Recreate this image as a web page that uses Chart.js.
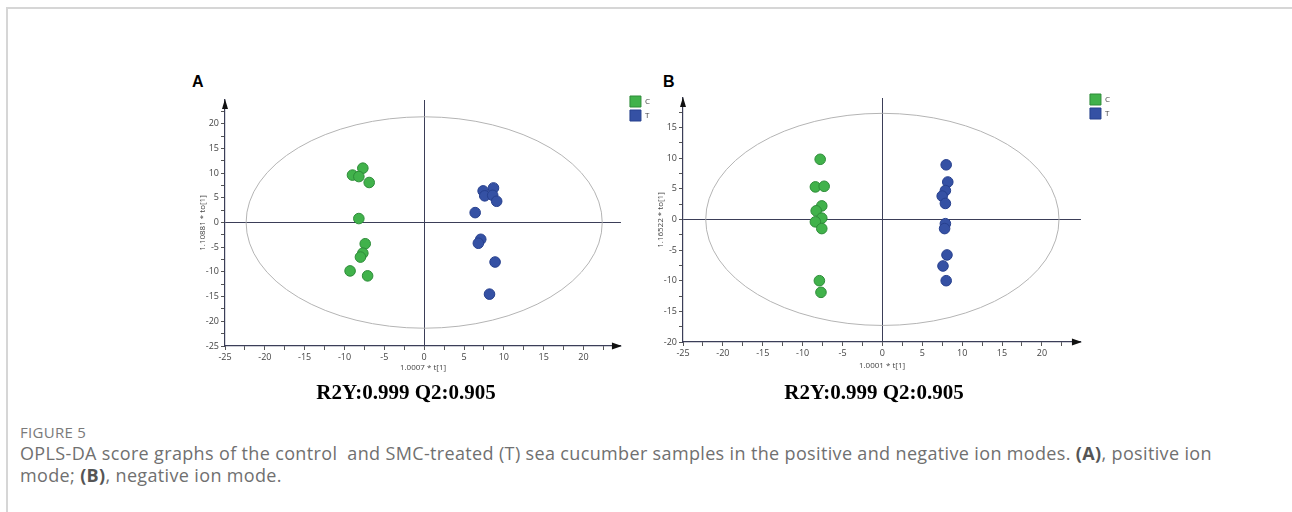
<!DOCTYPE html>
<html>
<head>
<meta charset="utf-8">
<script src="https://cdn.jsdelivr.net/npm/chart.js@4"></script>
<style>
  body { margin: 0; background: #fff; width: 1292px; height: 512px; overflow: hidden; position: relative; font-family: "Open Sans", sans-serif; }
  #frame { position: absolute; left: 6px; top: 7px; width: 1300px; height: 520px; border: 2px solid #d6d6d6; box-sizing: border-box; }
  canvas { position: absolute; }
  .panel { position: absolute; font: bold 16px "Liberation Sans", Arial, sans-serif; color: #000; }
  .stats { position: absolute; top: 380px; width: 300px; text-align: center; font: bold 21px "Liberation Serif", "Times New Roman", serif; color: #000; }
  #fig { position: absolute; left: 20px; top: 422px; font-size: 15px; letter-spacing: 0.3px; color: #7a7a7a; }
  #caption { position: absolute; left: 20px; top: 442px; font-size: 18px; letter-spacing: 0.35px; line-height: 22px; color: #707070; white-space: nowrap; }
  #caption b { color: #555; }
</style>
</head>
<body>
<div id="frame"></div>
<div class="panel" style="left:192px;top:73px">A</div>
<div class="panel" style="left:663px;top:73px">B</div>
<canvas id="chartA" width="530" height="340" style="left:150px;top:50px"></canvas>
<canvas id="chartB" width="530" height="340" style="left:610px;top:48px"></canvas>
<div class="stats" style="left:256px">R2Y:0.999 Q2:0.905</div>
<div class="stats" style="left:724px">R2Y:0.999 Q2:0.905</div>
<div id="fig">FIGURE 5</div>
<div id="caption">OPLS-DA score graphs of the control &nbsp;and SMC-treated (T) sea cucumber samples in the positive and negative ion modes. <b>(A)</b>, positive ion<br>mode; <b>(B)</b>, negative ion mode.</div>

<script>
// groups
const groups = ["C", "T"];

// (A) positive ion mode scores
const posCx = [-7.7, -9.0, -8.2, -6.9, -8.2, -7.4, -7.7, -8.0, -9.3, -7.1];
const posCy = [11.0, 9.6, 9.3, 8.1, 0.8, -4.3, -6.2, -7.0, -9.8, -10.8];
const posTx = [7.4, 8.7, 7.6, 8.6, 9.1, 6.4, 7.1, 6.8, 8.9, 8.2];
const posTy = [6.4, 7.0, 5.4, 5.5, 4.3, 2.0, -3.4, -4.2, -8.0, -14.5];

// (B) negative ion mode scores
const negCx = [-7.8, -8.4, -7.3, -7.6, -8.3, -7.6, -8.4, -7.6, -7.9, -7.7];
const negCy = [9.8, 5.3, 5.4, 2.2, 1.4, 0.2, -0.4, -1.5, -10.0, -11.9];
const negTx = [8.0, 8.2, 7.9, 7.5, 7.9, 7.9, 7.8, 8.1, 7.6, 8.0];
const negTy = [8.9, 6.1, 4.7, 3.8, 2.6, -0.7, -1.5, -5.8, -7.6, -10.0];

// Hotelling ellipse semi-axes [t1, to1]
const ellipseA = [22.35, 21.4];
const ellipseB = [22.15, 17.3];

const tickStep = 2.5;
const green = "#41b24b", greenEdge = "#2e8c39";
const blue = "#3551a4", blueEdge = "#27408e";
const axisColor = "#3b3e58";

const pts = (xs, ys) => xs.map((x, i) => ({ x: x, y: ys[i] }));

// ellipse drawn with the chart scales
const ellipsePlugin = {
  id: "ellipse",
  beforeDatasetsDraw(chart, args, opts) {
    const { ctx, scales: { x, y } } = chart;
    const cx = x.getPixelForValue(0), cy = y.getPixelForValue(0);
    const rx = x.getPixelForValue(opts.axes[0]) - cx;
    const ry = cy - y.getPixelForValue(opts.axes[1]);
    ctx.save();
    ctx.beginPath();
    ctx.ellipse(cx, cy, rx, ry, 0, 0, Math.PI * 2);
    ctx.strokeStyle = "#b4b4b4";
    ctx.lineWidth = 1;
    ctx.stroke();
    ctx.restore();
  }
};

// arrow heads at the end of both axes
const arrowPlugin = {
  id: "arrows",
  afterDraw(chart) {
    const { ctx, chartArea: a } = chart;
    ctx.save();
    ctx.fillStyle = "#111";
    ctx.beginPath();
    ctx.moveTo(a.right + 1, a.bottom);
    ctx.lineTo(a.right - 9, a.bottom - 3.5);
    ctx.lineTo(a.right - 9, a.bottom + 3.5);
    ctx.fill();
    ctx.beginPath();
    ctx.moveTo(a.left, a.top - 1);
    ctx.lineTo(a.left - 3, a.top + 9);
    ctx.lineTo(a.left + 3, a.top + 9);
    ctx.fill();
    ctx.restore();
  }
};

// move the legend a little (it sits above/right of the plot box in the original)
const legendNudge = {
  id: "legendNudge",
  afterLayout(chart, args, opts) {
    const l = chart.legend;
    if (!l) return;
    l.left += opts.dx; l.right += opts.dx;
    l.top += opts.dy; l.bottom += opts.dy;
  }
};

function makeChart(id, cx, cy, tx, ty, xTitle, yTitle, yMin, yMax, xMax, ell, pad, xH) {
  const zeroGrid = c => (c.tick && c.tick.value === 0) ? axisColor : "rgba(0,0,0,0)";
  const label = v => (Math.abs(v % 5) < 1e-9) ? v : "";
  return new Chart(document.getElementById(id), {
    type: "scatter",
    data: {
      datasets: [
        { label: groups[0], data: pts(cx, cy), backgroundColor: green, borderColor: greenEdge, borderWidth: 1, pointRadius: 5.3 },
        { label: groups[1], data: pts(tx, ty), backgroundColor: blue, borderColor: blueEdge, borderWidth: 1, pointRadius: 5.3 }
      ]
    },
    options: {
      responsive: false,
      animation: false,
      devicePixelRatio: 1,
      layout: { padding: pad },
      plugins: {
        tooltip: { enabled: false },
        ellipse: { axes: ell },
        legendNudge: { dx: 6, dy: -7 },
        legend: {
          position: "right",
          align: "start",
          labels: {
            boxWidth: 11, boxHeight: 11, padding: 3,
            color: "#444",
            font: { family: "Open Sans", size: 8 }
          }
        }
      },
      scales: {
        x: {
          type: "linear",
          min: -25, max: xMax,
          afterFit: s => { s.height = xH; },
          border: { color: axisColor, width: 1.2 },
          grid: { color: zeroGrid, tickColor: "#555", tickLength: 4, lineWidth: 1 },
          ticks: { stepSize: tickStep, includeBounds: false, autoSkip: false, maxRotation: 0, padding: 2, color: "#444", font: { family: "Open Sans", size: 9 }, callback: label },
          title: { display: true, text: xTitle, color: "#444", font: { family: "Open Sans", size: 8 }, padding: { top: 2, bottom: 3 } }
        },
        y: {
          type: "linear",
          min: yMin, max: yMax,
          afterFit: s => { s.width = 30; },
          border: { color: axisColor, width: 1.2 },
          grid: { color: zeroGrid, tickColor: "#555", tickLength: 4, lineWidth: 1 },
          ticks: { stepSize: tickStep, includeBounds: false, autoSkip: false, padding: 2, color: "#444", font: { family: "Open Sans", size: 9 }, callback: label },
          title: { display: true, text: yTitle, color: "#444", font: { family: "Open Sans", size: 8 }, padding: { top: 3, bottom: 2 } }
        }
      }
    },
    plugins: [ellipsePlugin, arrowPlugin, legendNudge]
  });
}

makeChart("chartA", posCx, posCy, posTx, posTy, "1.0007 * t[1]", "1.10881 * to[1]",
  -25, 24.8, 24.7, ellipseA, { top: 50, bottom: 14, left: 45, right: 26 }, 30);
makeChart("chartB", negCx, negCy, negTx, negTy, "1.0001 * t[1]", "1.16522 * to[1]",
  -20, 19.8, 24.9, ellipseB, { top: 50, bottom: 14, left: 43, right: 26 }, 32);
</script>
</body>
</html>
